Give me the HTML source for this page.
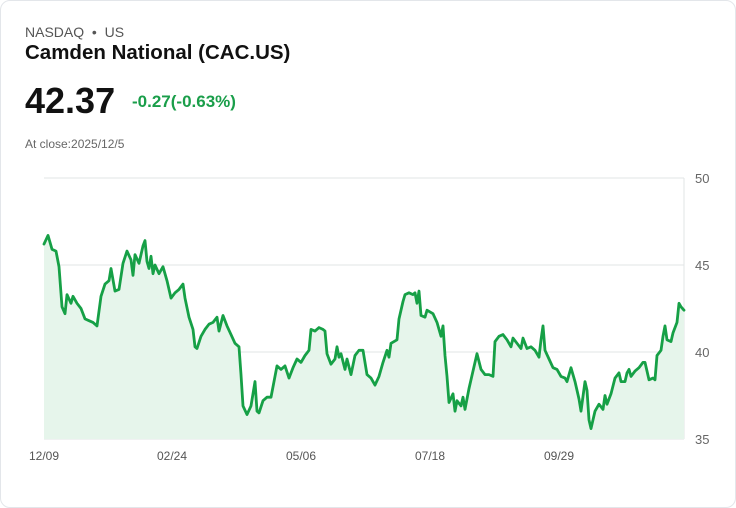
<!DOCTYPE html>
<html><head><meta charset="utf-8">
<style>
body{margin:0;background:#fff;font-family:"Liberation Sans",sans-serif;}
.card{position:absolute;left:0;top:0;width:734px;height:506px;border:1px solid #e3e6ea;border-radius:10px;background:#fff;}
.t{position:absolute;white-space:nowrap;}
</style></head><body>
<div class="card">
<div class="t" style="left:24px;top:23px;font-size:14px;color:#555;">NASDAQ &nbsp;•&nbsp; US</div>
<div class="t" style="left:24px;top:40px;font-size:20.5px;font-weight:bold;color:#111;">Camden National (CAC.US)</div>
<div class="t" style="left:24px;top:79px;font-size:36px;font-weight:bold;color:#111;">42.37</div>
<div class="t" style="left:131px;top:91px;font-size:17px;font-weight:bold;color:#1a9e4a;">-0.27(-0.63%)</div>
<div class="t" style="left:24px;top:136px;font-size:12px;color:#666;">At close:2025/12/5</div>
<svg id="chart" width="736" height="508" style="position:absolute;left:-1px;top:-1px;"></svg>
</div>
<script>
const sessions=[0,2,4,6,7.5,9,10.5,11.5,13.5,14.5,16.5,18.5,20.5,22.5,24.5,26.5,28.5,30.5,32.5,33.5,35.5,37.5,39.5,41.5,43.5,44.5,45.5,47.5,49.5,50.5,51.5,52.5,53.5,54.5,55.5,57.5,59.5,61.5,63.5,65.5,67.5,69.5,70.5,72.5,74.5,75.5,76.5,78.5,80.5,82.5,84.5,86.5,87.5,89.5,91.5,93.5,95.5,97.5,98.5,99.5,101.5,103.5,105.5,106.5,107.5,109.5,111.5,113.5,114.5,116.5,118.5,120.5,122.5,124.5,126.5,128.5,130.5,132.5,133.5,135.5,137.5,139.5,140.5,141.5,143.5,145.5,146.5,147.5,148.5,150.5,151.5,153.5,155.5,157.5,159.5,161.5,163.5,165.5,167.5,169.5,171.5,172.5,173.5,176.5,177.5,179.5,180.5,182.5,184.5,185.5,186.5,187.5,188.5,190.5,191.5,194.5,196.5,198.5,199.5,200.5,201.5,202.5,204.5,205.5,206.5,208.5,209.5,210.5,212.5,214.5,216.5,218.5,220.5,222.5,224.5,225.5,227.5,229.5,231.5,233.5,234.5,236.5,238.5,239.5,241.5,243.5,245.5,247.5,248.5,249.5,250.5,252.5,254.5,256.5,258.5,260.5,261.5,263.5,265.5,267.5,268.5,270.5,271.5,272.5,273.5,275.5,277.5,279.5,280.5,281.5,283.5,285.5,287.5,288.5,290.5,291.5,292.5,293.5,295.5,297.5,299.5,300.5,301.5,302.5,304.5,305.5,306.5,308.5,309.5,310.5,311.5,313.5,314.5,316.5,317.5,318.5,320];
const closes=[46.2,46.7,45.9,45.8,44.9,42.6,42.2,43.3,42.8,43.2,42.8,42.5,41.9,41.8,41.7,41.5,43.2,43.9,44.1,44.8,43.5,43.6,45.1,45.8,45.3,44.4,45.6,45.1,46.1,46.4,45.2,44.8,45.5,44.5,45.0,44.5,44.9,44.1,43.1,43.4,43.6,43.9,43.1,42.0,41.3,40.3,40.2,40.9,41.3,41.6,41.7,42.0,41.2,42.1,41.5,41.0,40.5,40.3,38.7,36.9,36.4,36.9,38.3,36.6,36.5,37.2,37.4,37.4,38.0,39.2,39.0,39.2,38.5,39.1,39.6,39.4,39.8,40.1,41.3,41.2,41.4,41.3,41.2,39.9,39.3,39.6,40.3,39.7,39.9,39.0,39.6,38.7,39.8,40.1,40.1,38.7,38.5,38.1,38.6,39.4,40.1,39.7,40.5,40.7,41.9,42.9,43.3,43.4,43.3,43.4,42.8,43.5,42.1,42.0,42.4,42.2,41.7,40.9,41.5,39.8,38.6,37.1,37.6,36.6,37.2,36.9,37.4,36.7,37.9,38.9,39.9,39.0,38.7,38.7,38.6,40.6,40.9,41.0,40.7,40.3,40.8,40.5,40.2,40.8,40.2,40.3,40.1,39.7,40.7,41.5,40.1,39.6,39.1,39.0,38.6,38.5,38.3,39.1,38.3,37.3,36.6,38.3,37.8,36.1,35.6,36.6,37.0,36.7,37.5,37.0,37.6,38.5,38.8,38.3,38.3,38.8,39.0,38.6,38.9,39.1,39.4,39.4,38.9,38.4,38.5,38.4,39.8,40.1,40.9,41.5,40.7,40.6,41.1,41.7,42.8,42.6,42.4];
const yTicks=[35,40,45,50];
const xTickSessions=[0,64,128.5,193,257.5];
const xTickLabels=['12/09','02/24','05/06','07/18','09/29'];

const NS='http://www.w3.org/2000/svg';
const svg=document.getElementById('chart');
const L=44,R=684,T=178,B=439,ymin=35,ymax=50,smax=320;
const xs=s=>L+(s/smax)*(R-L);
const ys=v=>B-(v-ymin)/(ymax-ymin)*(B-T);
function mk(tag,attrs){const e=document.createElementNS(NS,tag);for(const k in attrs)e.setAttribute(k,attrs[k]);svg.appendChild(e);return e;}
yTicks.forEach(v=>{
  const g=mk('line',{x1:L,x2:R,y1:ys(v),y2:ys(v),stroke:'#e2e4e6','stroke-width':1});
  
  
  const t=mk('text',{x:R+11,y:ys(v)+5,'font-size':13,fill:'#666','font-family':'Liberation Sans, sans-serif'});
  t.textContent=v;
  
  
});
const ax=mk('line',{x1:R,x2:R,y1:T,y2:B,stroke:'#e2e4e6','stroke-width':1});


xTickSessions.forEach((s,i)=>{
  const t=mk('text',{x:xs(s),y:460,'font-size':12,fill:'#555','text-anchor':'middle','font-family':'Liberation Sans, sans-serif'});
  t.textContent=xTickLabels[i];
  
  
});
let d='';
sessions.forEach((s,i)=>{d+=(i?'L':'M')+xs(s).toFixed(1)+','+ys(closes[i]).toFixed(1);});
const area=mk('path',{d:d+'L'+xs(sessions[sessions.length-1])+','+B+'L'+xs(sessions[0])+','+B+'Z',fill:'#e6f5eb',stroke:'none'});


const line=mk('path',{d:d,fill:'none',stroke:'#16a046','stroke-width':2.8,'stroke-linejoin':'round','stroke-linecap':'round'});


</script>
</body></html>
